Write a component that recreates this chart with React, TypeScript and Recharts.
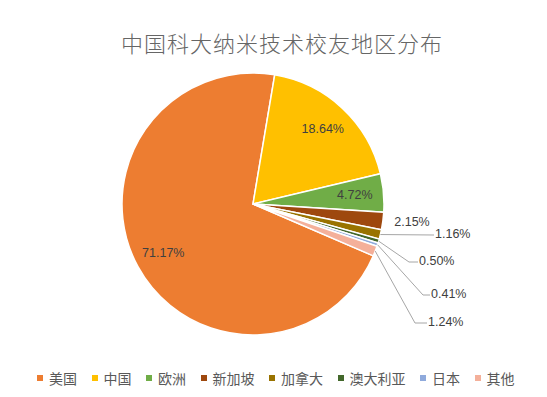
import React from 'react';
import { PieChart, Pie, Cell, Legend } from 'recharts';

const regions = ['美国', '中国', '欧洲', '新加坡', '加拿大', '澳大利亚', '日本', '其他'];
const shares = [71.17, 18.64, 4.72, 2.15, 1.16, 0.5, 0.41, 1.24];
const colors = ['#ED7D31', '#FFC000', '#70AD47', '#9E480E', '#997300', '#43682B', '#8FAADC', '#F4B09A'];
const titleText = '中国科大纳米技术校友地区分布';

const data = regions.map((name, i) => ({ name, value: shares[i] }));

const RAD = Math.PI / 180;
const LABEL_FONT = '"Liberation Sans", Arial, sans-serif';
const LABEL_COLOR = '#404040';

// outside label layout, relative to centre & outer radius
const outsideLayout: Record<number, { ex: number; ey: number; tx: number; ty: number; line: boolean }> = {
  3: { ex: 28, ey: 18, tx: 28, ty: 18, line: false },
  4: { ex: 50, ey: 31, tx: 50, ty: 31, line: true },
  5: { ex: 25, ey: 58, tx: 34, ty: 58, line: true },
  6: { ex: 39, ey: 91, tx: 46, ty: 91, line: true },
  7: { ex: 31, ey: 119, tx: 43, ty: 119, line: true },
};

const renderLabel = (props: any) => {
  const { cx, cy, midAngle, outerRadius, index, value } = props;
  const text = Number(value).toFixed(2) + '%';
  const cos = Math.cos(-midAngle * RAD);
  const sin = Math.sin(-midAngle * RAD);
  if (index < 3) {
    const r = outerRadius * 0.78;
    return (
      <text
        x={cx + r * cos}
        y={cy + r * sin}
        fill={LABEL_COLOR}
        fontSize={12.5}
        fontFamily={LABEL_FONT}
        textAnchor="middle"
        dominantBaseline="central"
      >
        {text}
      </text>
    );
  }
  const L = outsideLayout[index];
  const sx = cx + outerRadius * cos;
  const sy = cy + outerRadius * sin;
  const ex = cx + outerRadius + L.ex;
  const ey = cy + L.ey;
  const tx = cx + outerRadius + L.tx;
  const ty = cy + L.ty;
  if (!L.line) {
    return (
      <text x={tx} y={ty} fill={LABEL_COLOR} fontSize={12.5} fontFamily={LABEL_FONT} textAnchor="middle" dominantBaseline="central">
        {text}
      </text>
    );
  }
  return (
    <g>
      <polyline points={`${sx},${sy} ${ex},${ey} ${tx},${ty}`} fill="none" stroke="#A6A6A6" strokeWidth={1} />
      <text x={tx + 1} y={ty - 1} fill={LABEL_COLOR} fontSize={12.5} fontFamily={LABEL_FONT} textAnchor="start" dominantBaseline="central">
        {text}
      </text>
    </g>
  );
};

const renderLegend = () => (
  <div style={{ display: 'flex', alignItems: 'center', paddingLeft: 37, boxSizing: 'border-box' }}>
    {regions.map((name, i) => (
      <div key={name} style={{ display: 'flex', alignItems: 'center', marginRight: 14.5 }}>
        <span style={{ display: 'inline-block', width: 6, height: 6, background: colors[i], marginRight: 6 }} />
        <span style={{ fontSize: 14, color: '#595959', fontFamily: '"Noto Sans CJK SC", sans-serif', lineHeight: '18px' }}>{name}</span>
      </div>
    ))}
  </div>
);

export default function App() {
  return (
    <div style={{ position: 'absolute', left: 0, top: 0, width: 547, height: 397, background: '#fff' }}>
      <PieChart width={547} height={397} margin={{ top: 0, right: 0, bottom: 0, left: 0 }}>
        <text
          x={282}
          y={42}
          textAnchor="middle"
          dominantBaseline="central"
          fill="#666666"
          fontSize={22}
          fontWeight={300}
          letterSpacing={1}
          fontFamily='"Noto Sans CJK SC", sans-serif'
        >
          {titleText}
        </text>
        <Pie
          data={data}
          dataKey="value"
          nameKey="name"
          cx={253}
          cy={204}
          outerRadius={131}
          startAngle={-23.3}
          endAngle={-383.3}
          stroke="#FFFFFF"
          strokeWidth={1.5}
          label={renderLabel}
          labelLine={false}
          isAnimationActive={false}
        >
          {data.map((d, i) => (
            <Cell key={d.name} fill={colors[i]} />
          ))}
        </Pie>
        <Legend content={renderLegend} wrapperStyle={{ position: 'absolute', left: 0, top: 369, width: 547 }} />
      </PieChart>
    </div>
  );
}
